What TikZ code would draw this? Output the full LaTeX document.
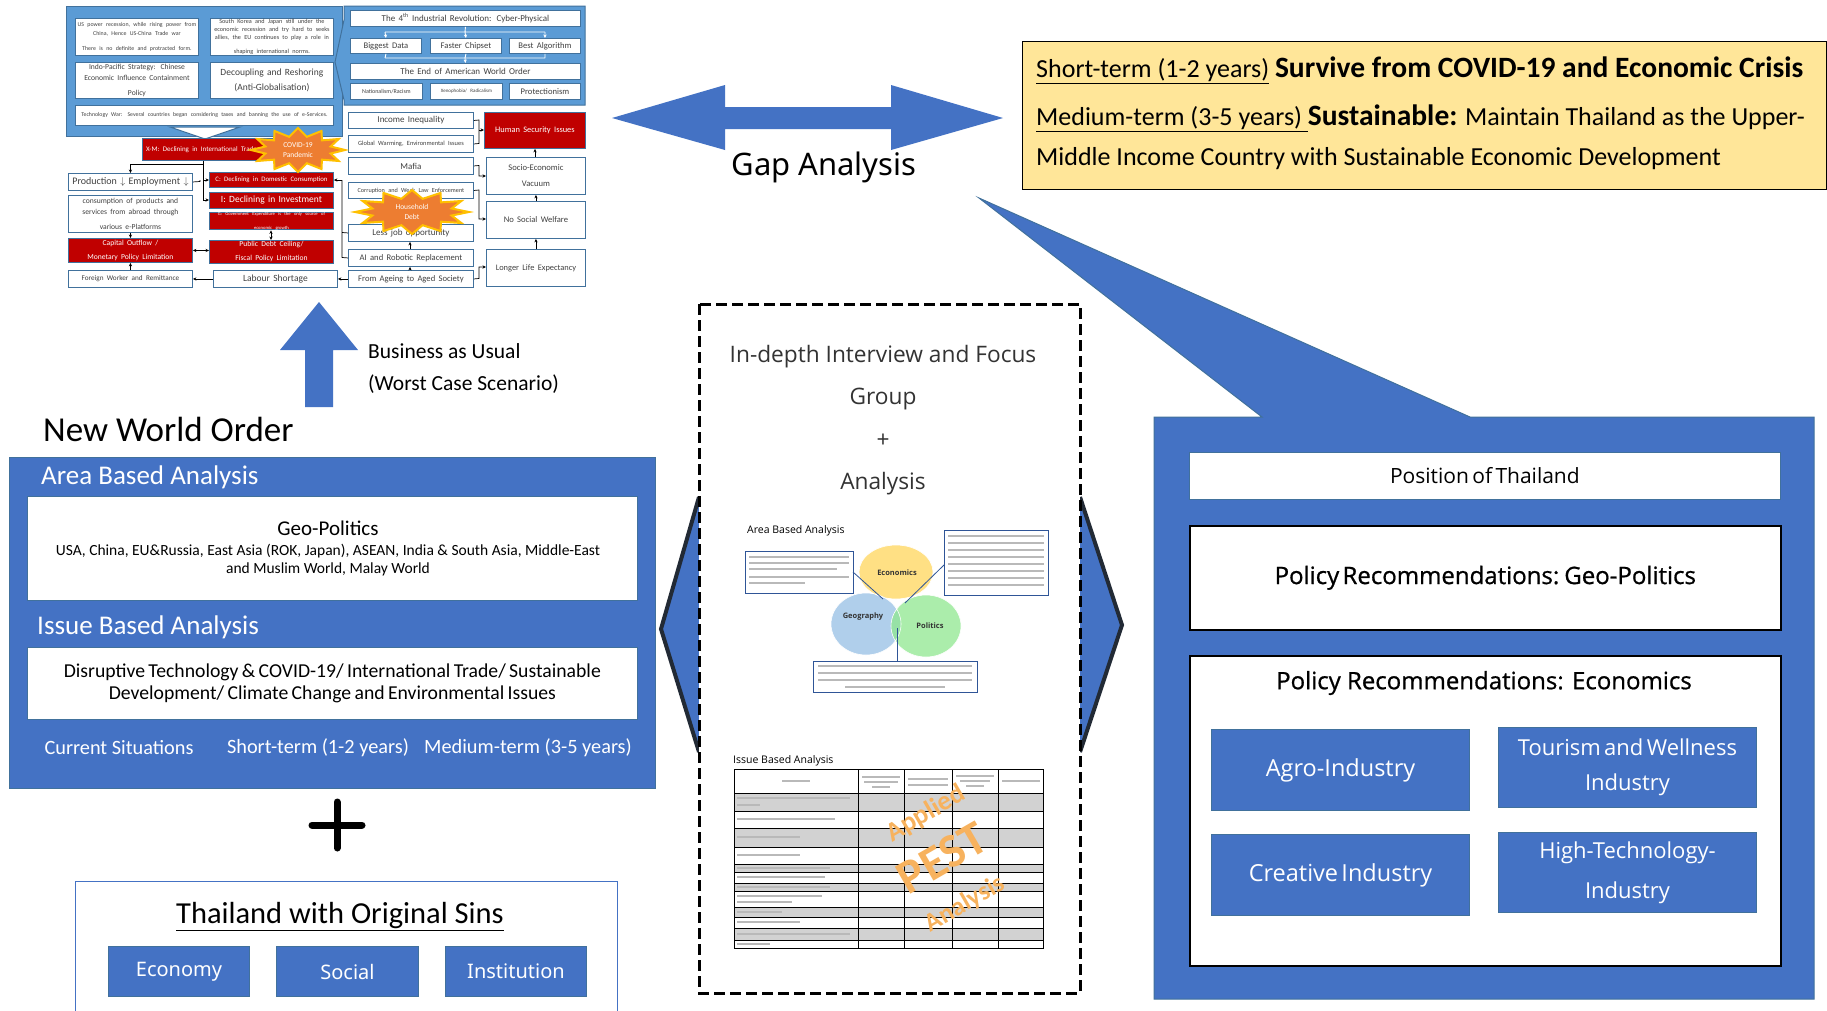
\documentclass[tikz,border=0pt]{standalone}
\usepackage{fontspec}
\setmainfont{Carlito}
\newfontfamily\tah{Noto Sans}
\newfontfamily\lee{Open Sans}
\newfontfamily\leesb[FakeBold=0.8]{Open Sans}
\usetikzlibrary{arrows.meta,calc}
\definecolor{pblue}{HTML}{4472C4}
\definecolor{lblue}{HTML}{5B9BD5}
\definecolor{bline}{HTML}{41719C}
\definecolor{dred}{HTML}{C00000}
\definecolor{yel}{HTML}{FFE699}
\definecolor{orng}{HTML}{ED7D31}
\definecolor{gold}{HTML}{FFC000}
\definecolor{navy}{HTML}{222A35}
\definecolor{econc}{HTML}{FFD966}
\definecolor{geoc}{HTML}{9DC3E6}
\definecolor{polc}{HTML}{8FE88F}
\definecolor{tbox}{HTML}{2F5597}
\definecolor{pestc}{HTML}{F7B25E}
\newcommand{\fsz}[1]{\fontsize{#1}{#1}\selectfont}
\newcommand\bx[7]{%
 \pgfmathsetmacro\bxw{#5-#3}\pgfmathsetmacro\bxh{#6-#4}\pgfmathsetmacro\bxt{#5-#3-2}%
 \node[#1,anchor=north west,minimum width=\bxw pt,minimum height=\bxh pt,text width=\bxt pt,inner sep=0pt,align=center] (#2) at (#3,#4) {\hyphenpenalty=10000\exhyphenpenalty=10000 #7};}
\newcommand\burst[7]{%
 \draw[fill=orng, draw=gold, line width=2pt, line join=miter] plot[samples at={0,15,...,345}] ({#1+(mod(\x,30)<1?#3:0.72*#3)*cos(\x)},{#2+(mod(\x,30)<1?#4:0.62*#4)*sin(\x)}) -- cycle;
 \node[text=white,align=center,font=\fsz{#7},inner sep=0pt] (#5) at (#1,#2) {#6};}
\newcommand\tln[3]{\draw[gray!55, line width=1.1pt] (#1,#3)--(#2,#3);}
\begin{document}
\begin{tikzpicture}[x=1pt,y=-1pt,
  fw/.style={draw=bline, fill=white, line width=0.9pt, text=black!75},
  rd/.style={draw=bline, fill=dred, line width=0.9pt, text=white},
  wb/.style={draw=bline, fill=white, line width=0.8pt, text=black},
  bb/.style={draw=bline, fill=pblue, line width=1pt, text=white},
  kb/.style={draw=black, fill=white, line width=1.6pt, text=black},
  pestt/.style={rotate=30, text=pestc, inner sep=0pt},
  arr/.style={-{Stealth[length=3.5pt,width=3.2pt]}, line width=0.7pt},
  darr/.style={{Stealth[length=3.5pt,width=3.2pt]}-{Stealth[length=3.5pt,width=3.2pt]}, line width=0.7pt},
  warr/.style={-{Stealth[length=3.5pt,width=3.2pt]}, line width=0.9pt, white}]
\useasboundingbox (0,0) rectangle (1827,1010);
\fill[white] (0,0) rectangle (1827,1010);

% ===== top-left flowchart =====
\draw[fill=lblue, draw=bline, line width=1pt] (66,6) rectangle (342,136);
\draw[fill=lblue, draw=bline, line width=1pt] (344,6) -- (585,6) -- (585,105) -- (344,105) -- (344,100) -- (335,62) -- (344,20) -- cycle;
\draw[fill=white, draw=bline, line width=1pt] (170,127) -- (240,127) -- (205,139) -- cycle;

\bx{fw}{us}{75}{18}{198}{55}{\fsz{5.9}US power recession, while rising power from\\[3.5pt]China, Hence US-China Trade war\\[3.5pt]There is no definite and protracted form.}
\bx{fw}{sk}{210}{18}{333}{55}{\fsz{6.2}South Korea and Japan still under the\\[2pt]economic recession and try hard to seeks\\[2pt]allies, the EU continues to play a role in\\[2pt]shaping international norms.}
\bx{fw}{ip}{75}{62}{198}{98}{\fsz{7.6}Indo-Pacific Strategy: Chinese\\[3.5pt]Economic Influence Containment\\[3.5pt]Policy}
\bx{fw}{dr}{210}{62}{333}{98}{\fsz{9.5}Decoupling and Reshoring\\[3pt](Anti-Globalisation)}
\bx{fw}{tw}{75}{105}{333}{125}{\fsz{5.8}Technology War: Several countries began considering taxes and banning the use of e-Services.}

\bx{fw}{ir}{350}{10}{580}{26}{\fsz{9}The 4\textsuperscript{th} Industrial Revolution: Cyber-Physical}
\bx{fw}{bd}{350}{38}{421}{53}{\fsz{8.6}Biggest Data}
\bx{fw}{fc}{430}{38}{501}{53}{\fsz{8.6}Faster Chipset}
\bx{fw}{ba}{509}{38}{580}{53}{\fsz{8.6}Best Algorithm}
\bx{fw}{eo}{350}{63}{580}{79}{\fsz{9}The End of American World Order}
\bx{fw}{nr}{350}{83}{422}{99}{\fsz{6}Nationalism/Racism}
\bx{fw}{xr}{430}{83}{502}{99}{\fsz{5}Xenophobia/ Radicalism}
\bx{fw}{pr}{509}{83}{580}{99}{\fsz{8.6}Protectionism}
\draw[white, line width=0.9pt] (ir.south) -- (465,32) (385,32) -- (545,32);
\draw[warr] (385,32) -- (bd.north);
\draw[warr] (465,32) -- (fc.north);
\draw[warr] (545,32) -- (ba.north);
\draw[white, line width=0.9pt] (bd.south) -- (385,58) (ba.south) -- (545,58) (fc.south) -- (465,58) (385,58) -- (545,58);
\draw[warr] (465,58) -- (eo.north);

\bx{rd}{xm}{142}{138}{290}{160}{\fsz{7}X-M: Declining in International Trade\hspace*{30pt}}
\bx{fw}{pe}{68}{173}{192}{190}{\fsz{10}Production $\downarrow$ Employment $\downarrow$}
\bx{fw}{co}{68}{195}{192}{232}{\fsz{7.6}consumption of products and\\[3.5pt]services from abroad through\\[3.5pt]various e-Platforms}
\bx{rd}{cap}{68}{238}{192}{262}{\fsz{7.6}Capital Outflow /\\[2pt]Monetary Policy Limitation}
\bx{fw}{fwr}{68}{270}{192}{287}{\fsz{7.2}Foreign Worker and Remittance}
\bx{rd}{cc}{209}{172}{333}{187}{\fsz{6.8}C: Declining in Domestic Consumption}
\bx{rd}{ii}{209}{192}{333}{208}{\fsz{9.5}I: Declining in Investment}
\bx{rd}{gg}{209}{212}{333}{228}{\fsz{4.6}G: Government Expenditure is the only source of\\[1.5pt]economic growth}
\bx{rd}{pd}{209}{240}{333}{263}{\fsz{7.6}Public Debt Ceiling/\\[2pt]Fiscal Policy Limitation}
\bx{fw}{ls}{213}{270}{337}{287}{\fsz{9.5}Labour Shortage}

\bx{fw}{inc}{348}{112}{473}{128}{\fsz{9}Income Inequality}
\bx{fw}{gw}{348}{135}{473}{152}{\fsz{6.4}Global Warming, Environmental Issues}
\bx{fw}{maf}{348}{157}{473}{174}{\fsz{9}Mafia}
\bx{fw}{cor}{348}{182}{473}{198}{\fsz{6.2}Corruption and Weak Law Enforcement}
\bx{fw}{lj}{348}{224}{473}{241}{\fsz{9}Less job opportunity}
\bx{fw}{ai}{348}{249}{473}{266}{\fsz{8.6}AI and Robotic Replacement}
\bx{fw}{ag}{348}{270}{473}{287}{\fsz{8.6}From Ageing to Aged Society}
\bx{rd}{hsi}{484}{112}{585}{148}{\fsz{8.4}Human Security Issues}
\bx{fw}{sev}{486}{157}{585}{194}{\fsz{8.6}Socio-Economic\\[4pt]Vacuum}
\bx{fw}{nsw}{486}{201}{585}{238}{\fsz{8.6}No Social Welfare}
\bx{fw}{lle}{486}{249}{585}{286}{\fsz{8.4}Longer Life Expectancy}

\draw[line width=0.7pt] (xm.south -| 203,0) -- (203,201);
\draw[arr] (203,164) -| (pe.north);
\draw[arr] (203,180) -- (cc.west |- 203,180);
\draw[arr] (203,200) -- (ii.west |- 203,200);
\draw[line width=0.7pt] (pe.east) -- (200,181.5) -- (200,180);
\draw[arr] (co.south) -- (cap.north);
\draw[arr] (fwr.north) -- (cap.south);
\draw[darr] (cap.east) -- (pd.west |- cap.east);
\draw[darr] (gg.south -| 271,0) -- (pd.north -| 271,0);
\draw[arr] (ls.west) -- (fwr.east |- ls.west);
\draw[arr] (ag.west) -- (ls.east |- ag.west);
\draw[line width=0.7pt] (lj.west) -- (342,232.5) (ai.west) -- (342,257.5) (342,257.5) -- (342,180);
\draw[arr] (342,180) -- (cc.east |- 342,180);
\draw[arr] (ai.north -| 410,0) -- (lj.south -| 410,0);
\draw[arr] (ag.north -| 410,0) -- (ai.south -| 410,0);
\draw[line width=0.7pt] (inc.east) -- (479,120) -- (479,143.5) -- (gw.east);
\draw[arr] (479,130) -- (hsi.west |- 479,130);
\draw[arr] (maf.east) -- (479,165.5) -- (479,176) -- (sev.west |- 479,176);
\draw[arr] (cor.east) -- (479,190) -- (479,219) -- (nsw.west |- 479,219);
\draw[arr] (ag.east) -- (479,278.5) -- (479,267) -- (lle.west |- 479,267);
\draw[arr] (nsw.north) -- (sev.south);
\draw[arr] (sev.north -| 535,0) -- (hsi.south -| 535,0);
\draw[arr] (lle.north) -- (nsw.south);

\burst{298}{150}{47}{22}{covid}{COVID-19\\[3pt]Pandemic}{7.5}
\burst{412}{212}{57}{22}{hdebt}{Household\\[3pt]Debt}{7.5}

% ===== gap arrow =====
\fill[pblue] (612,118) -- (725,85) -- (725,107) -- (891,107) -- (891,85) -- (1003,118) -- (891,150) -- (891,129) -- (725,129) -- (725,150) -- cycle;
\node[font=\tah\fsz{31}, inner sep=0pt] (gap) at (824,167) {Gap Analysis};

% ===== yellow box =====
\node[draw=black, line width=1pt, fill=yel, anchor=north west, minimum width=804pt, minimum height=148pt, inner sep=0pt] (ybox) at (1022,41) {};
\node[anchor=west, inner sep=0pt, text=black] (y1) at (1036,70) {\fsz{26}\underline{Short-term (1-2 years)} {\bfseries\fsz{29.5}Survive from COVID-19 and Economic Crisis}};
\node[anchor=west, inner sep=0pt, text=black] (y2) at (1036,118) {\fsz{26}\underline{Medium-term (3-5 years) }{\bfseries\fsz{29.5}Sustainable:} Maintain Thailand as the Upper-};
\node[anchor=west, inner sep=0pt, text=black] (y3) at (1036,159) {\fsz{26}Middle Income Country with Sustainable Economic Development};

% ===== business as usual arrow =====
\fill[pblue] (319,302) -- (358,350) -- (333,350) -- (333,407) -- (305,407) -- (305,350) -- (280,350) -- cycle;
\node[anchor=west, font=\fsz{21.5}, inner sep=0pt] (bau1) at (368,351) {Business as Usual};
\node[anchor=west, font=\fsz{21.5}, inner sep=0pt] (bau2) at (368,384) {(Worst Case Scenario)};

% ===== New World Order panel =====
\node[anchor=west, font=\fsz{35}, inner sep=0pt] (nwo) at (43,429) {New World Order};
\draw[fill=pblue, draw=bline, line width=1pt] (9,457) rectangle (655,788);
\node[anchor=west, font=\fsz{27}, text=white, inner sep=0pt] (aba) at (41,477) {Area Based Analysis};
\bx{wb}{geo}{27}{496}{637}{600}{}
\node[font=\fsz{21}, inner sep=0pt] (geot) at (328,528) {Geo-Politics};
\node[font=\fsz{15.5}, inner sep=0pt, align=center] (geol) at (328,560) {USA, China, EU\&Russia, East Asia (ROK, Japan), ASEAN, India \& South Asia, Middle-East\\[3pt]and Muslim World, Malay World};
\node[anchor=west, font=\fsz{27}, text=white, inner sep=0pt] (iba) at (37,627) {Issue Based Analysis};
\bx{wb}{iss}{27}{647}{637}{719}{\fsz{19.7}Disruptive Technology \& COVID-19/ International Trade/ Sustainable\\[4pt]Development/ Climate Change and Environmental Issues}
\node[font=\fsz{20.3}, text=white, inner sep=0pt] (cur) at (119,748) {Current Situations};
\node[font=\fsz{20.3}, text=white, inner sep=0pt] (st) at (318,748) {Short-term (1-2 years)};
\node[font=\fsz{20.3}, text=white, inner sep=0pt] (mt) at (528,748) {Medium-term (3-5 years)};

% plus
\draw[line width=7pt, line cap=round] (312,825) -- (362,825) (337,802) -- (337,848);

% Thailand with original sins
\draw[draw=pblue, line width=1pt] (75,1012) -- (75,881) -- (617,881) -- (617,1012);
\node[font=\fsz{30.5}, inner sep=0pt] (tos) at (340,917) {\underline{Thailand with Original Sins}};
\bx{bb}{eco}{108}{946}{249}{996}{\tah\fsz{20}Economy}
\bx{bb}{soc}{276}{946}{418}{996}{\tah\fsz{20}Social}
\bx{bb}{ins}{445}{946}{586}{996}{\tah\fsz{20}Institution}

% ===== middle panel =====
\draw[fill=pblue, draw=navy, line width=4pt, line join=miter] (699,497) -- (661,629) -- (699,752);
\draw[fill=pblue, draw=navy, line width=4pt, line join=miter] (1080,497) -- (1122,625) -- (1080,752);
\draw[fill=white, draw=none] (699,304) rectangle (1080,993);
\draw[black, line width=3pt, dash pattern=on 11pt off 5pt] (699,304) rectangle (1080,993);
\node[font=\lee\fsz{22.7}, text=black!80, inner sep=0pt] (m1) at (883,357) {In-depth Interview and Focus};
\node[font=\lee\fsz{22.7}, text=black!80, inner sep=0pt] (m2) at (883,399) {Group};
\node[font=\lee\fsz{22.7}, text=black!80, inner sep=0pt] (m3) at (883,441) {+};
\node[font=\lee\fsz{22.7}, text=black!80, inner sep=0pt] (m4) at (883,484) {Analysis};

% area based inset
\node[anchor=west, font=\lee\fsz{10.5}, inner sep=0pt] (abat) at (747,531) {Area Based Analysis};
\fill[econc, opacity=0.8] (896,572) ellipse [x radius=37pt, y radius=27pt];
\fill[geoc, opacity=0.8] (866,624) ellipse [x radius=35pt, y radius=31pt];
\fill[polc, opacity=0.75] (926,626) ellipse [x radius=35pt, y radius=31pt];
\draw[white, line width=0.6pt] (896,572) ellipse [x radius=37pt, y radius=27pt] (866,624) ellipse [x radius=35pt, y radius=31pt] (926,626) ellipse [x radius=35pt, y radius=31pt];
\node[font=\lee\bfseries\fsz{7.5}, text=black!80, inner sep=0pt] (ecl) at (897,573) {Economics};
\node[font=\lee\bfseries\fsz{7.5}, text=black!80, inner sep=0pt] (gel) at (863,617) {Geography};
\node[font=\lee\bfseries\fsz{7.5}, text=black!80, inner sep=0pt] (pol) at (930,626) {Politics};
\bx{draw=tbox,fill=white,line width=0.9pt}{tb1}{745}{551}{853}{593}{}
\bx{draw=tbox,fill=white,line width=0.9pt}{tb2}{944}{530}{1048}{595}{}
\bx{draw=tbox,fill=white,line width=0.9pt}{tb3}{813}{661}{977}{692}{}
\draw[tbox, line width=0.8pt] (853,572) -- (883,599);
\draw[tbox, line width=0.8pt] (944,565) -- (905,603);
\draw[tbox, line width=0.8pt] (897,661) -- (897,628);
\tln{749}{849}{557}\tln{749}{849}{563}\tln{749}{837}{569}\tln{749}{849}{577}\tln{749}{805}{583}
\tln{948}{1044}{536}\tln{948}{1044}{543}\tln{948}{1044}{550}\tln{948}{1044}{557}\tln{948}{1044}{564}\tln{948}{1044}{571}\tln{948}{1044}{578}\tln{948}{1044}{585}
\tln{818}{972}{666}\tln{818}{972}{673}\tln{818}{972}{680}\tln{845}{945}{687}

% issue based inset
\node[anchor=west, font=\lee\fsz{10.5}, inner sep=0pt] (ibat) at (733,761) {Issue Based Analysis};
\foreach \ya/\yb in {793/811, 828/847, 864/872, 883/891, 907/917, 928/940} {\fill[gray!35] (734,\ya) rectangle (1043,\yb);}
\draw[line width=0.9pt] (734,769) rectangle (1043,948);
\foreach \yy in {793,811,828,847,864,872,883,891,907,917,928,940} {\draw[line width=0.7pt] (734,\yy) -- (1043,\yy);}
\foreach \xx in {858,904,952,998} {\draw[line width=0.7pt] (\xx,769) -- (\xx,948);}
\tln{782}{810}{781}
\tln{862}{900}{777}\tln{864}{898}{782}\tln{872}{890}{787}
\tln{908}{948}{779}\tln{908}{948}{785}
\tln{956}{994}{776}\tln{960}{990}{781}\tln{966}{984}{786}
\tln{1002}{1040}{781}
\tln{737}{850}{798}\tln{737}{760}{805}\tln{737}{835}{819}\tln{737}{800}{837}\tln{737}{800}{855}
\tln{737}{830}{868}\tln{737}{825}{877}\tln{737}{830}{887}\tln{737}{822}{896}\tln{737}{792}{902}
\tln{737}{782}{912}\tln{737}{800}{922}\tln{737}{850}{934}\tln{737}{770}{944}
\node[pestt, font=\bfseries\fsz{27}] (app) at (926,814) {Applied};
\node[pestt, font=\bfseries\fsz{48}] (pest) at (942,858) {PEST};
\node[pestt, font=\bfseries\fsz{26}] (anl) at (965,904) {Analysis};

% ===== right panel =====
\draw[fill=pblue, draw=bline, line width=1pt, line join=miter] (1154,417) -- (1262,417) -- (979,198) -- (1470,417) -- (1814,417) -- (1814,999) -- (1154,999) -- cycle;
\bx{wb}{pos}{1189}{452}{1780}{499}{\lee\fsz{21}Position of Thailand}
\bx{kb}{prg}{1189}{525}{1780}{629}{\leesb\fsz{24}Policy Recommendations: Geo-Politics}
\bx{kb}{pre}{1189}{655}{1780}{965}{}
\node[font=\leesb\fsz{24}, inner sep=0pt] (pret) at (1484,683) {Policy Recommendations: Economics};
\bx{bb}{agro}{1211}{729}{1469}{810}{\lee\fsz{23.5}Agro-Industry}
\bx{bb}{tour}{1498}{727}{1756}{807}{\lee\fsz{22}Tourism and Wellness\\[17pt]Industry}
\bx{bb}{crea}{1211}{834}{1469}{915}{\lee\fsz{23.5}Creative Industry}
\bx{bb}{hitech}{1498}{832}{1756}{912}{\lee\fsz{22}High-Technology-\\[17pt]Industry}
\end{tikzpicture}
\end{document}
